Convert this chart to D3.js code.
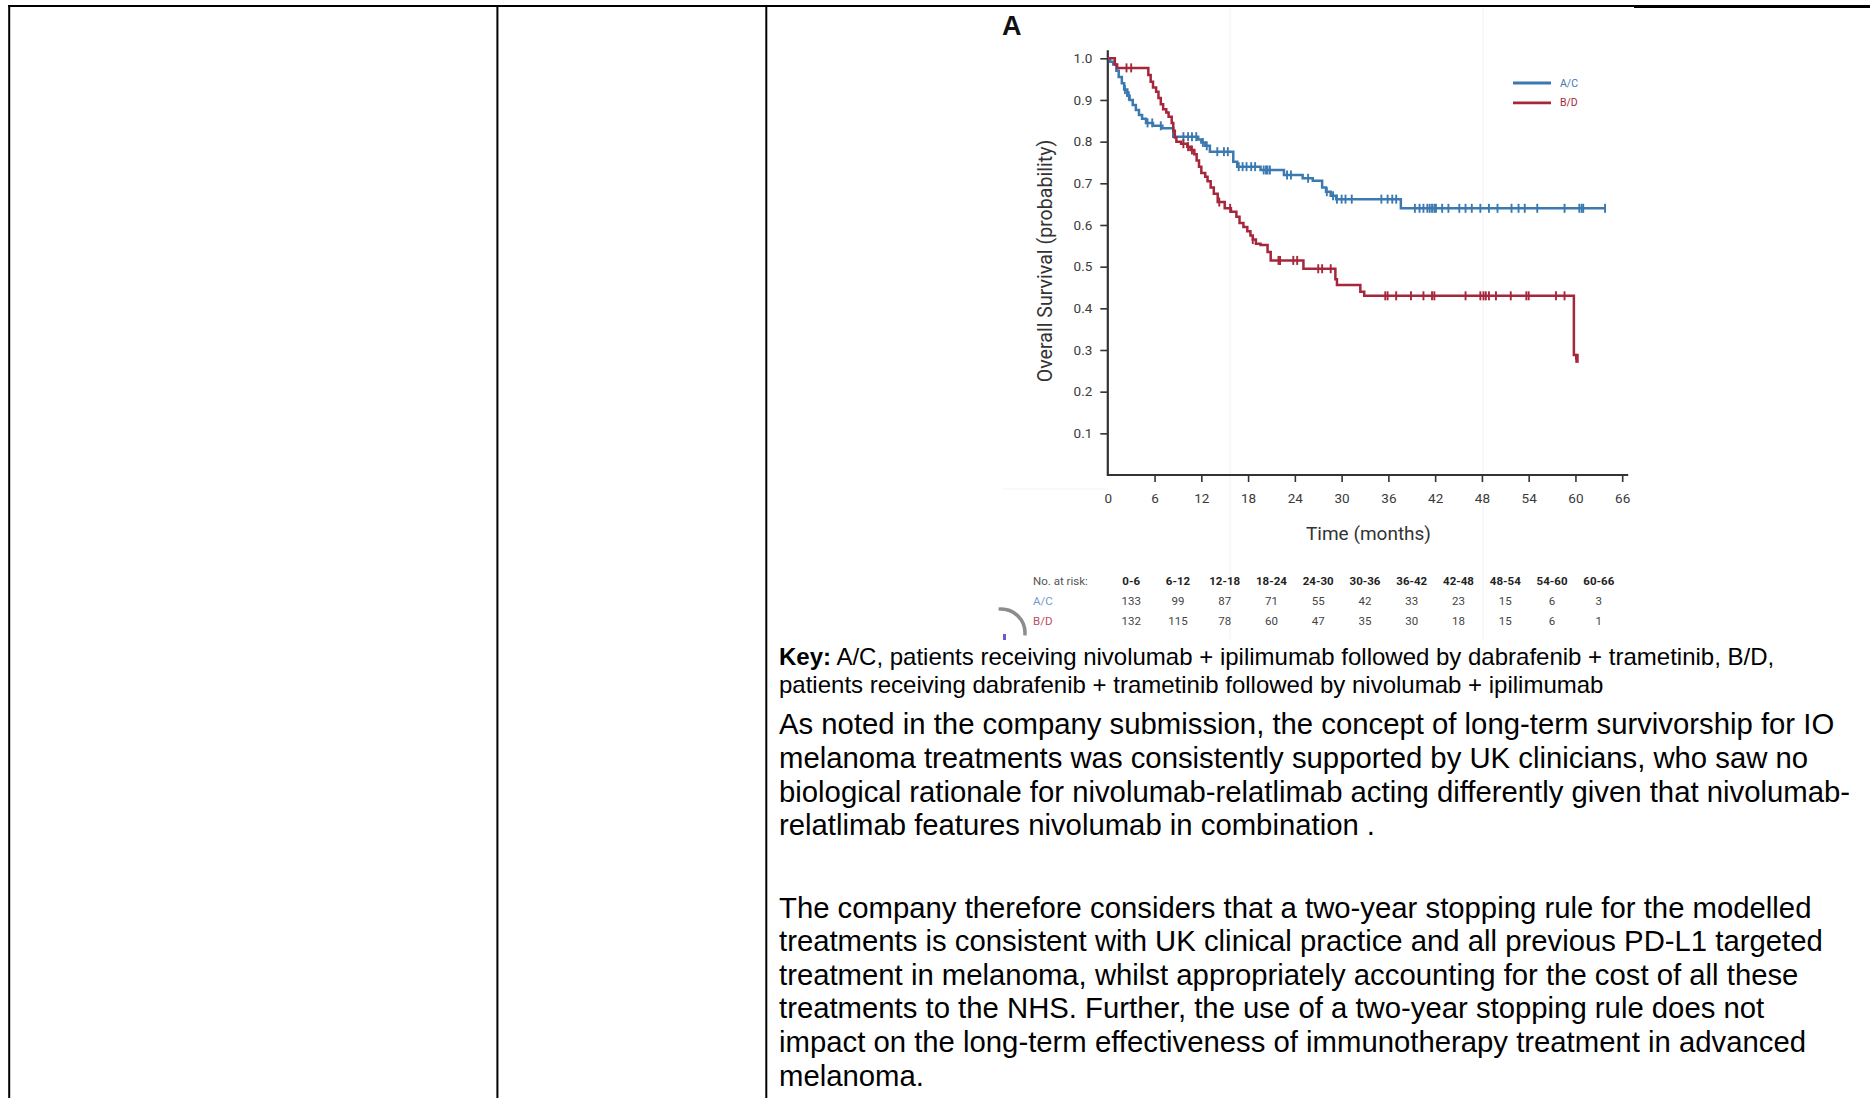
<!DOCTYPE html>
<html><head><meta charset="utf-8">
<script src="https://cdn.jsdelivr.net/npm/d3@7"></script>
<style>
html,body{margin:0;padding:0;background:#fff;}
svg{display:block;}
</style></head><body>
<svg id="c" width="1870" height="1098"></svg>
<script>
// ---------- data ----------
const monthTicks = [0, 6, 12, 18, 24, 30, 36, 42, 48, 54, 60, 66];
const survTicks = [0.1, 0.2, 0.3, 0.4, 0.5, 0.6, 0.7, 0.8, 0.9, 1.0];
const seriesNames = ["A/C", "B/D"];

// Kaplan-Meier steps: [month, survival]
const acSteps = [[0,1.0],[0.3,0.992],[0.7,0.985],[1.1,0.97],[1.4,0.955],[1.8,0.94],[2.1,0.925],[2.5,0.91],[2.8,0.9],[3.2,0.888],[3.6,0.876],[4.0,0.864],[4.4,0.855],[4.9,0.845],[5.8,0.838],[7.0,0.832],[8.4,0.812],[11.6,0.805],[12.0,0.798],[12.5,0.79],[13.1,0.776],[16.1,0.752],[16.6,0.74],[19.6,0.732],[22.6,0.72],[25.0,0.712],[26.3,0.706],[27.5,0.69],[28.0,0.68],[28.6,0.67],[29.3,0.662],[37.6,0.64]];
const acEnd = 63.8;
const acCensor = [2.2,2.7,5.1,5.7,6.8,9.7,10.3,10.8,11.35,12.2,12.7,14.05,14.9,15.4,16.8,17.3,17.8,18.4,18.9,20.0,20.3,20.5,20.8,23.0,23.5,25.7,28.1,28.9,29.4,30.0,30.5,31.3,35.1,35.9,36.5,37.0,39.4,40.0,40.5,41.0,41.3,41.6,41.9,42.1,42.9,43.7,45.1,45.9,46.7,47.8,48.9,50.0,51.8,52.7,53.5,55.1,58.6,60.5,60.8,61.0,63.8];

const bdSteps = [[0,1.0],[0.9,0.985],[1.2,0.977],[5.2,0.96],[5.5,0.944],[5.8,0.93],[6.2,0.92],[6.5,0.905],[6.8,0.89],[7.1,0.878],[7.5,0.87],[7.8,0.86],[8.2,0.845],[8.4,0.826],[8.6,0.81],[8.8,0.8],[9.4,0.795],[10.2,0.788],[10.6,0.78],[11.1,0.77],[11.4,0.755],[11.7,0.74],[12.0,0.725],[12.5,0.716],[12.8,0.705],[13.2,0.69],[13.6,0.675],[14.1,0.655],[15.0,0.64],[15.8,0.632],[16.5,0.62],[16.9,0.605],[17.4,0.595],[17.9,0.585],[18.3,0.575],[18.6,0.565],[19.0,0.555],[19.6,0.552],[20.5,0.535],[20.9,0.515],[25.1,0.495],[29.2,0.47],[29.4,0.456],[32.4,0.44],[32.9,0.43],[59.8,0.288],[60.1,0.28]];
const bdEnd = 60.3;
const bdCensor = [2.4,3.0,9.7,10.3,10.8,14.3,15.7,18.6,21.9,22.1,23.8,24.3,27.0,27.5,28.6,35.6,35.9,37.0,38.9,40.5,41.6,41.9,45.9,47.8,48.2,48.5,48.9,49.8,51.7,53.7,54.0,57.5,58.6,60.1,60.3];

// number at risk
const riskIntervals = ["0-6","6-12","12-18","18-24","24-30","30-36","36-42","42-48","48-54","54-60","60-66"];
const riskAC = [133, 99, 87, 71, 55, 42, 33, 23, 15, 6, 3];
const riskBD = [132, 115, 78, 60, 47, 35, 30, 18, 15, 6, 1];

// text
const keyLines = [
  "A/C, patients receiving nivolumab + ipilimumab followed by dabrafenib + trametinib, B/D,",
  "patients receiving dabrafenib + trametinib followed by nivolumab + ipilimumab"
];
const para1 = [
  "As noted in the company submission, the concept of long-term survivorship for IO",
  "melanoma treatments was consistently supported by UK clinicians, who saw no",
  "biological rationale for nivolumab-relatlimab acting differently given that nivolumab-",
  "relatlimab features nivolumab in combination ."
];
const para2 = [
  "The company therefore considers that a two-year stopping rule for the modelled",
  "treatments is consistent with UK clinical practice and all previous PD-L1 targeted",
  "treatment in melanoma, whilst appropriately accounting for the cost of all these",
  "treatments to the NHS. Further, the use of a two-year stopping rule does not",
  "impact on the long-term effectiveness of immunotherapy treatment in advanced",
  "melanoma."
];

// ---------- drawing ----------
const svg = d3.select("#c");
const BLUE = "#3b79b1", RED = "#a6263a";
const chartFont = "Roboto, 'Noto Sans', sans-serif";
const docFont = "'Liberation Sans', Arial, sans-serif";

// table borders
const border = svg.append("g").attr("stroke", "#000");
border.append("line").attr("x1", 8).attr("x2", 1634).attr("y1", 6).attr("y2", 6).attr("stroke-width", 2);
border.append("line").attr("x1", 1634).attr("x2", 1870).attr("y1", 6.5).attr("y2", 6.5).attr("stroke-width", 3);
[9.2, 497.4, 766.3].forEach(x => border.append("line").attr("x1", x).attr("x2", x).attr("y1", 5).attr("y2", 1098).attr("stroke-width", 2));

// faint image artifacts
const faint = svg.append("g").attr("stroke", "#f2f2f2").attr("stroke-width", 1);
faint.append("line").attr("x1", 1230).attr("x2", 1230).attr("y1", 8).attr("y2", 640);
faint.append("line").attr("x1", 1483).attr("x2", 1483).attr("y1", 8).attr("y2", 640);
faint.append("line").attr("x1", 1003).attr("x2", 1108).attr("y1", 489).attr("y2", 489);

const x = d3.scaleLinear().domain([0, 66]).range([1107.8, 1622.2]);
const y = d3.scaleLinear().domain([0, 1]).range([475, 58.3]);

// panel label
svg.append("text").attr("x", 1002).attr("y", 35).attr("font-family", "'Liberation Sans', Arial, sans-serif")
  .attr("font-weight", "bold").attr("font-size", 27).attr("fill", "#111").text("A");

// axes
const gx = svg.append("g").attr("transform", "translate(0,475)")
  .call(d3.axisBottom(x).tickValues(monthTicks).tickSize(7).tickPadding(11).tickFormat(d3.format("d")));
gx.select(".domain").remove();
gx.selectAll(".tick line").attr("stroke", "#333").attr("stroke-width", 1.6).filter(d => d === 0).remove();
gx.selectAll(".tick text").attr("font-family", chartFont).attr("font-size", 13.5).attr("fill", "#3a3a3a");

const gy = svg.append("g").attr("transform", "translate(1107.8,0)")
  .call(d3.axisLeft(y).tickValues(survTicks).tickSize(7.5).tickPadding(8).tickFormat(d3.format(".1f")));
gy.select(".domain").remove();
gy.selectAll(".tick line").attr("stroke", "#333").attr("stroke-width", 1.6);
gy.selectAll(".tick text").attr("font-family", chartFont).attr("font-size", 13.5).attr("fill", "#3a3a3a");

svg.append("path").attr("fill", "none").attr("stroke", "#333").attr("stroke-width", 2.2)
  .attr("d", `M${x(0)},${y(1) - 8}V${y(0)}H${x(66) + 6}`);

svg.append("text").attr("x", x(33) + 3.5).attr("y", 540).attr("text-anchor", "middle")
  .attr("font-family", chartFont).attr("font-size", 19).attr("fill", "#333").text("Time (months)");
svg.append("text").attr("transform", "translate(1052,261) rotate(-90)").attr("text-anchor", "middle")
  .attr("font-family", chartFont).attr("font-size", 19.6).attr("fill", "#333").text("Overall Survival (probability)");

// KM curves
const line = d3.line().x(d => x(d[0])).y(d => y(d[1])).curve(d3.curveStepAfter);
function stepAt(steps, t) {
  let v = steps[0][1];
  for (const s of steps) { if (s[0] <= t) v = s[1]; }
  return v;
}
function drawSeries(steps, end, censor, color) {
  const pts = steps.concat([[end, steps[steps.length - 1][1]]]);
  svg.append("path").datum(pts).attr("fill", "none").attr("stroke", color).attr("stroke-width", 2.5).attr("d", line);
  svg.append("g").selectAll("line").data(censor).join("line")
    .attr("x1", d => x(d)).attr("x2", d => x(d))
    .attr("y1", d => y(stepAt(steps, d)) - 4.5).attr("y2", d => y(stepAt(steps, d)) + 4.5)
    .attr("stroke", color).attr("stroke-width", 1.9);
}
drawSeries(acSteps, acEnd, acCensor, BLUE);
drawSeries(bdSteps, bdEnd, bdCensor, RED);

// legend
const legend = svg.append("g");
[BLUE, RED].forEach((c, i) => {
  legend.append("line").attr("x1", 1513).attr("x2", 1551).attr("y1", 83 + i * 19.8).attr("y2", 83 + i * 19.8)
    .attr("stroke", c).attr("stroke-width", 2.8);
  legend.append("text").attr("x", 1560).attr("y", 83 + i * 19.8).attr("dy", "0.35em")
    .attr("font-family", chartFont).attr("font-size", 10.5).attr("fill", c).text(seriesNames[i]);
});

// number at risk table
const risk = svg.append("g").attr("font-family", chartFont).attr("font-size", 11.5);
const rowY = [580.5, 600.5, 620.5];
risk.append("text").attr("x", 1033).attr("y", rowY[0]).attr("dy", "0.35em").attr("fill", "#555").text("No. at risk:");
risk.append("text").attr("x", 1033).attr("y", rowY[1]).attr("dy", "0.35em").attr("fill", "#6f9cc9").text(seriesNames[0]);
risk.append("text").attr("x", 1033).attr("y", rowY[2]).attr("dy", "0.35em").attr("fill", "#b8505e").text(seriesNames[1]);
riskIntervals.forEach((lab, i) => {
  const cx = x(i * 6 + 3);
  risk.append("text").attr("x", cx).attr("y", rowY[0]).attr("dy", "0.35em").attr("text-anchor", "middle")
    .attr("font-weight", "bold").attr("fill", "#222").text(lab);
  risk.append("text").attr("x", cx).attr("y", rowY[1]).attr("dy", "0.35em").attr("text-anchor", "middle")
    .attr("fill", "#444").text(riskAC[i]);
  risk.append("text").attr("x", cx).attr("y", rowY[2]).attr("dy", "0.35em").attr("text-anchor", "middle")
    .attr("fill", "#444").text(riskBD[i]);
});

// small arc artifact
svg.append("path").attr("fill", "none").attr("stroke", "#8c8c8c").attr("stroke-width", 3.5)
  .attr("d", d3.arc()({innerRadius: 24, outerRadius: 24, startAngle: -0.1, endAngle: Math.PI / 2 + 0.1}))
  .attr("transform", "translate(1001,633)");
svg.append("rect").attr("x", 1003).attr("y", 634).attr("width", 3).attr("height", 6).attr("fill", "#6a5acd");

// document text
const doc = svg.append("g").attr("font-family", docFont).attr("fill", "#000");
const k1 = doc.append("text").attr("x", 779).attr("y", 665).attr("font-size", 24);
k1.append("tspan").attr("font-weight", "bold").text("Key:");
k1.append("tspan").text(" " + keyLines[0]);
doc.append("text").attr("x", 779).attr("y", 692.5).attr("font-size", 24).text(keyLines[1]);
para1.forEach((t, i) => doc.append("text").attr("x", 779).attr("y", 734.3 + i * 33.6).attr("font-size", 29.3).text(t));
para2.forEach((t, i) => doc.append("text").attr("x", 779).attr("y", 917.5 + i * 33.6).attr("font-size", 29.3).text(t));
</script>
</body></html>
